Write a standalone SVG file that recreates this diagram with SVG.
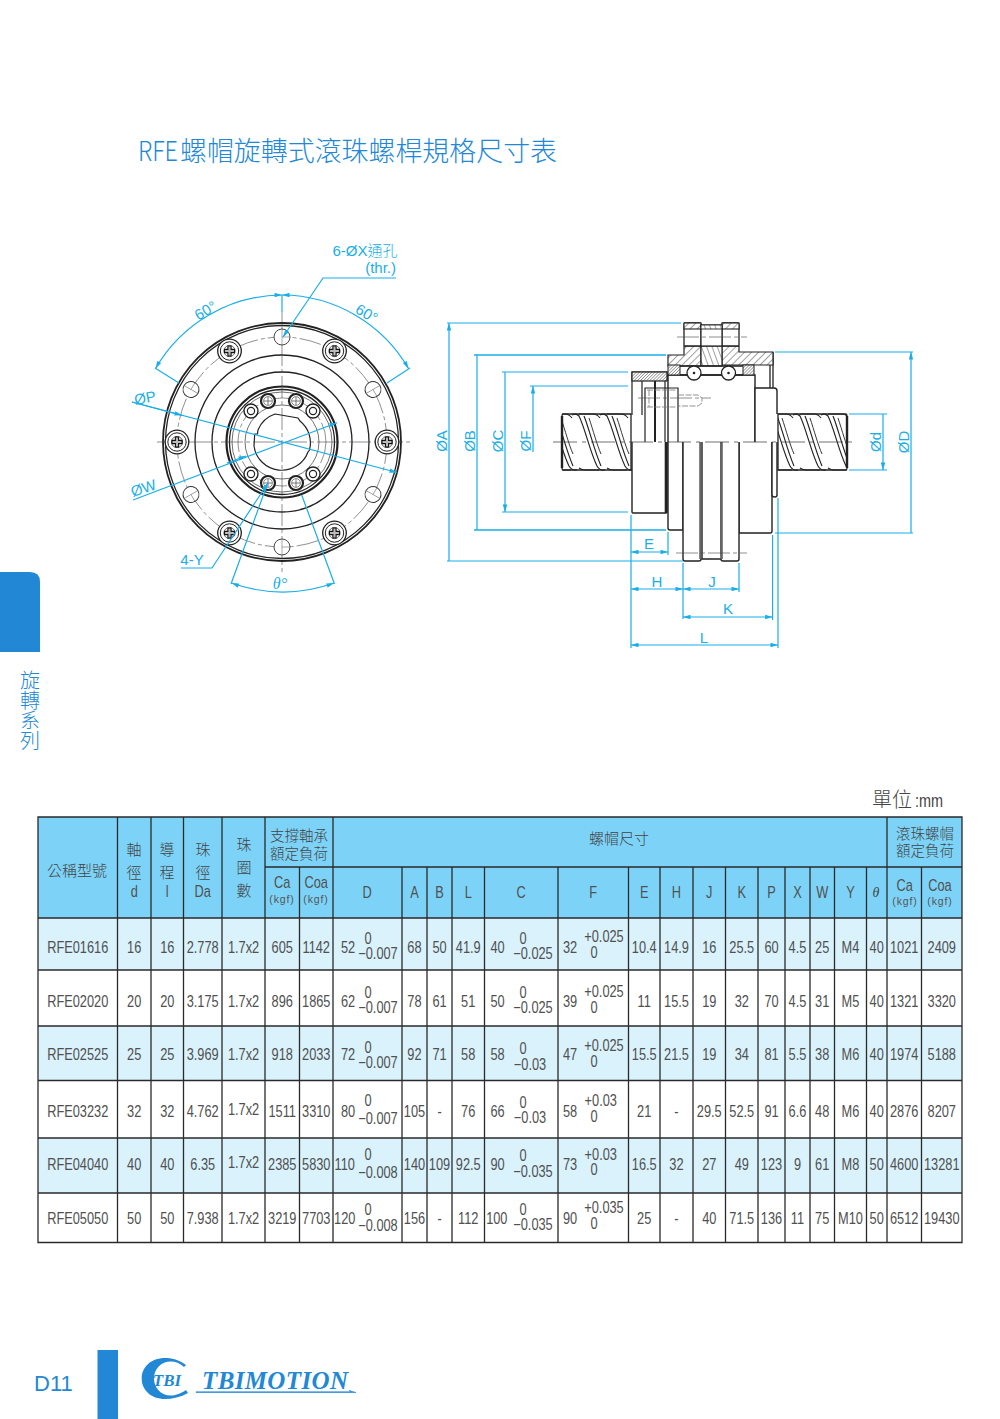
<svg xmlns="http://www.w3.org/2000/svg" width="1000" height="1419" viewBox="0 0 1000 1419">
<style>
.cjk{font-family:"Noto Sans CJK TC","Noto Sans CJK SC",sans-serif}
.ls{font-family:"Liberation Sans",Arial,sans-serif}
.tt{font-family:"Liberation Sans",Arial,sans-serif;font-size:16px;fill:#505050;text-anchor:middle}
.th{font-family:"Noto Sans CJK TC",sans-serif;font-size:15px;fill:#444;text-anchor:middle;font-weight:300}
.th2{font-family:"Noto Sans CJK TC",sans-serif;font-size:14.500px;fill:#444;text-anchor:middle;font-weight:300}
.kg{font-family:"Liberation Sans",sans-serif;font-size:10.5px;fill:#555;text-anchor:middle;letter-spacing:.9px}
.dim{font-family:"Liberation Sans",Arial,sans-serif;font-size:15px;fill:#19aee9;text-anchor:middle}
.c{fill:none;stroke:#19aee9;stroke-width:1.2}
.ca{fill:none;stroke:#19aee9;stroke-width:1.2;marker-start:url(#as);marker-end:url(#ae)}
.b{fill:none;stroke:#222;stroke-width:1.3}
.bt{fill:none;stroke:#222;stroke-width:2.2}
.n{fill:none;stroke:#333;stroke-width:.7}
.cl{fill:none;stroke:#444;stroke-width:.6;stroke-dasharray:22 3 4 3}
.g{stroke:#2a2a2a;stroke-width:1.3;fill:none}
.o{fill:#fff;stroke:#222;stroke-width:1.4}
</style>
<defs>
<marker id="ae" viewBox="0 0 10 6" refX="10" refY="3" markerWidth="8" markerHeight="4.500" markerUnits="userSpaceOnUse" orient="auto"><path d="M0 0L10 3L0 6Z" fill="#19aee9"/></marker>
<marker id="as" viewBox="0 0 10 6" refX="0" refY="3" markerWidth="8" markerHeight="4.500" markerUnits="userSpaceOnUse" orient="auto"><path d="M10 0L0 3L10 6Z" fill="#19aee9"/></marker>
<pattern id="h1" width="5" height="5" patternUnits="userSpaceOnUse" patternTransform="rotate(45)"><rect width="5" height="5" fill="#fff"/><line x1="0" y1="0" x2="0" y2="5" stroke="#444" stroke-width="1"/></pattern>
<pattern id="h2" width="5" height="5" patternUnits="userSpaceOnUse" patternTransform="rotate(-20)"><rect width="5" height="5" fill="#fff"/><line x1="0" y1="0" x2="0" y2="5" stroke="#444" stroke-width="1"/></pattern>
<pattern id="h3" width="2.200" height="2.200" patternUnits="userSpaceOnUse" patternTransform="rotate(45)"><rect width="2.200" height="2.200" fill="#fff"/><line x1="0" y1="0" x2="0" y2="2.200" stroke="#555" stroke-width="1"/></pattern>
<g id="screw"><circle r="11.800" fill="#fff" stroke="#222" stroke-width="1.300"/><circle r="9.200" fill="none" stroke="#222" stroke-width="1"/><circle r="5.600" fill="none" stroke="#333" stroke-width=".7"/><path d="M-1.600-5H1.600V-1.600H5V1.600H1.600V5H-1.600V1.600H-5V-1.600H-1.600Z" fill="#bbb" stroke="#111" stroke-width="1.100"/></g>
<g id="hole"><circle r="8" fill="#fff" stroke="#333" stroke-width=".9"/><path d="M0-8V8M0 0H8" stroke="#555" stroke-width=".5" fill="none"/></g>
<g id="bolt"><circle r="7" fill="#fff" stroke="#222" stroke-width="2.200"/><circle r="4.400" fill="none" stroke="#555" stroke-width=".7"/><path d="M-4 0H4M0-4V4" stroke="#555" stroke-width=".8"/></g>
<g id="pin"><circle r="7" fill="#fff" stroke="#222" stroke-width="1.400"/><circle r="3.600" fill="none" stroke="#222" stroke-width="1.200"/></g>
<g id="thread" fill="none" stroke="#222" stroke-width="1.150"><path d="M-5 415Q-1 413 2 416C8 428 13 452 20 466Q23 471 28 470"/><path d="M7 416C12 428 17 450 24 466"/><path d="M12 418C16 430 20 445 24 454" stroke-width=".9"/><path d="M2 414H16Q20 414 23 418M22 470H8Q5 470 2 468" stroke-width="1.150"/></g>
<clipPath id="sl"><rect x="562" y="413" width="70" height="58"/></clipPath>
<clipPath id="sr"><rect x="778" y="413" width="69" height="58"/></clipPath>
</defs>

<g id="title"><text x="138" y="161" font-size="27" fill="#2288d6" class="cjk" font-weight="300" textLength="40" lengthAdjust="spacingAndGlyphs">RFE</text><text x="180" y="161" font-size="27" fill="#2288d6" class="cjk" font-weight="300" textLength="377" lengthAdjust="spacingAndGlyphs">螺帽旋轉式滾珠螺桿規格尺寸表</text></g>

<g id="side-tab">
<path d="M0 572H30Q40 572 40 582V652H0Z" fill="#2288d6"/>
<text x="30" y="670" class="cjk" font-size="20" fill="#2288d6" font-weight="300" writing-mode="vertical-rl">旋轉系列</text>
</g>

<g id="front-view">
<circle cx="282" cy="442" r="119" fill="#fff" stroke="#222" stroke-width="1.800"/>
<circle cx="282" cy="442" r="116.500" class="b"/>
<circle cx="282" cy="442" r="87" class="b"/>
<circle cx="282" cy="442" r="70" class="b"/>
<circle cx="282" cy="442" r="105" class="cl"/>
<circle cx="282" cy="442" r="55.500" class="bt"/>
<circle cx="282" cy="442" r="52.500" class="b"/>
<circle cx="282" cy="442" r="50" class="n"/>
<circle cx="282" cy="442" r="44" class="cl"/>
<circle cx="282" cy="442" r="37" class="n"/>
<path d="M275 414L298 418L300 421A28 28 0 0 1 309.500 450L308 452A28 28 0 0 1 254 446L254.700 434L257.500 434L258 430A28 28 0 0 1 275 414Z" fill="#fff" stroke="#222" stroke-width="1.200"/>
<path d="M157 442H410M282 312V572" class="cl"/>
<use href="#hole" x="282" y="337"/><use href="#hole" x="282" y="547"/>
<use href="#hole" transform="translate(191 389.500) rotate(-60)"/><use href="#hole" transform="translate(373 389.500) rotate(60)"/><use href="#hole" transform="translate(191 494.500) rotate(60)"/><use href="#hole" transform="translate(373 494.500) rotate(-60)"/>
<use href="#screw" x="229.500" y="351"/><use href="#screw" x="334.500" y="351"/><use href="#screw" x="229.500" y="533"/><use href="#screw" x="334.500" y="533"/><use href="#screw" x="177" y="442"/><use href="#screw" x="387" y="442"/>
<use href="#bolt" x="268" y="401"/><use href="#bolt" x="296" y="401"/><use href="#bolt" x="268" y="483"/><use href="#bolt" x="296" y="483"/>
<use href="#pin" x="251" y="411"/><use href="#pin" x="313" y="411"/><use href="#pin" x="251" y="474"/><use href="#pin" x="313" y="474"/>
</g>

<g id="side-view">
<path d="M563 414H631V470H563Q562 470 562 468V416Q562 414 563 414Z" fill="#fff" stroke="#222" stroke-width="1.300"/>
<path d="M778 414H846Q847 414 847 416V468Q847 470 846 470H778Z" fill="#fff" stroke="#222" stroke-width="1.300"/>
<path d="M562 416V468M847 416V468" stroke="#222" stroke-width="2.400"/>
<g clip-path="url(#sl)"><use href="#thread" x="549"/><use href="#thread" x="577"/><use href="#thread" x="605"/></g>
<g clip-path="url(#sr)"><use href="#thread" x="770"/><use href="#thread" x="798"/><use href="#thread" x="826"/></g>

<path d="M632 442V512Q632 513 633 513H666Q667 513 667 512V442" class="o"/>
<path d="M668 442V528Q668 530 670 530H683V442" class="o"/>
<path d="M739 442V533H770Q772 533 772 531V442" class="o"/>
<path d="M772 442V495Q772 497 775 497Q777 497 777 495V442" class="o"/>
<path d="M683 442V559Q683 561 685 561H699Q701 561 701 559V442" class="o"/>
<path d="M721 442V559Q721 561 723 561H737Q739 561 739 559V442" class="o"/>
<path d="M702 442V559H721" class="o"/>
<path d="M666 442V513" stroke="#222" stroke-width="2.600"/>
<path d="M700.500 442V559M721.500 442V559" stroke="#666" stroke-width="2.600"/>

<path d="M668 442V375H755V442" class="o"/>
<path d="M755 442V388H774Q777 388 777 391V414" class="o"/>
<path d="M770 388V364M773 388V352" class="b"/>
<path d="M632 415V372H667V381M642 381V415M645 442V388H678V442M665 381V442" fill="none" stroke="#222" stroke-width="1.200"/>
<path d="M655 381V442" stroke="#222" stroke-width="2"/>
<rect x="632" y="372" width="35" height="9" fill="url(#h3)" stroke="#222" stroke-width="1.200"/>
<path d="M668 365V355H684V346H701V366H668Z" fill="url(#h1)" stroke="#222" stroke-width="1.200"/>
<path d="M722 346H739V352H773V365H722Z" fill="url(#h1)" stroke="#222" stroke-width="1.200"/>
<rect x="701" y="346" width="21" height="20" fill="url(#h2)" stroke="#222" stroke-width="1.200"/>
<rect x="668" y="365" width="12" height="10" fill="url(#h3)" stroke="#222" stroke-width="1"/>
<rect x="743" y="365" width="11" height="10" fill="url(#h3)" stroke="#222" stroke-width="1"/>
<path d="M680 366H743M680 375H743" class="b"/>
<rect x="684" y="323" width="17" height="23" rx="1" fill="#fff" stroke="#222" stroke-width="1.300"/>
<rect x="684" y="323" width="17" height="6" fill="url(#h1)" stroke="#222" stroke-width="1.100"/>
<rect x="722" y="323" width="17" height="23" rx="1" fill="#fff" stroke="#222" stroke-width="1.300"/>
<rect x="722" y="323" width="17" height="6" fill="url(#h1)" stroke="#222" stroke-width="1.100"/>
<rect x="701" y="325" width="21" height="21" fill="#fff" stroke="#222" stroke-width="1.200"/>
<rect x="701" y="325" width="21" height="4" fill="url(#h2)" stroke="#222" stroke-width=".9"/>
<circle cx="694" cy="373" r="7" fill="#fff" stroke="#222" stroke-width="1.300"/><circle cx="694" cy="373" r="1.300" fill="#222"/>
<circle cx="728.500" cy="373" r="7" fill="#fff" stroke="#222" stroke-width="1.300"/><circle cx="728.500" cy="373" r="1.300" fill="#222"/>
<path d="M647 390H678M647 407H678M678 395H698L702 398L702 403L698 406H678M649 390V407" fill="none" stroke="#777" stroke-width=".8" stroke-dasharray="6 1.500"/>
<path d="M638 398H711M677 337H747M676 553H747" class="cl"/>
<path d="M553 442H855" fill="none" stroke="#333" stroke-width=".7" stroke-dasharray="24 5 4 5"/>
</g>

<g id="connectors">
<path d="M282 295V312" class="c"/>
<path d="M155 368L179 383M410 368L387 383" class="c"/>
<path d="M155.500 368.500A147 147 0 0 1 282 295" class="ca"/>
<path d="M408.500 368.500A147 147 0 0 0 282 295" class="ca"/>
<path d="M396 278H323L283 337" class="c" marker-end="url(#ae)"/>
<path d="M132 402L397 472.500" class="c" marker-end="url(#ae)"/>
<path d="M132 402L182 415.300" class="c" marker-end="url(#ae)"/>
<path d="M133 500L337 422.700" class="c" marker-end="url(#ae)"/>
<path d="M227 463L246 456" class="c" marker-end="url(#ae)"/>
<path d="M181 568H212L268 483" class="c" marker-end="url(#ae)"/>
<path d="M267 485L231 584M301.700 495L334.500 584" class="c"/>
<path d="M231.500 583A150 150 0 0 0 334 583" class="ca"/>

<path d="M447 323H681M447 561H683M502 372H628M502 512H628M530 386H628" class="c"/>
<path d="M474 355H666M474 530H666" class="c" style="stroke-width:1.500"/>
<path d="M449 323V561M477 355V530M505 372V512" class="ca"/>
<path d="M533 452V386" class="c" marker-end="url(#ae)"/>
<path d="M775 352H913M775 533H913M849 414H887M849 470H887" class="c"/>
<path d="M911 352V533M883 414V470" class="ca"/>
<path d="M631 515V648M668 532V555M683 563V619M739 563V592M772.600 535V620M778 498V648" class="c"/>
<path d="M631 552H668" class="ca"/>
<path d="M631 589H683" class="ca"/>
<path d="M683 589H739" class="ca"/>
<path d="M683 617H772.600" class="ca"/>
<path d="M631 645H778" class="ca"/>
</g>

<g id="dimension-labels">
<text class="dim" x="365" y="256"><tspan class="ls">6-ØX</tspan><tspan class="cjk" font-weight="300">通孔</tspan></text>
<text class="dim" x="396" y="273" style="text-anchor:end">(thr.)</text>
<text class="dim" transform="translate(208 315) rotate(-30)">60°</text>
<text class="dim" transform="translate(364 318) rotate(30)">60°</text>
<text class="dim" transform="translate(146 403) rotate(-10)">ØP</text>
<text class="dim" transform="translate(145 493) rotate(-18)">ØW</text>
<text class="dim" x="192" y="565">4-Y</text>
<text x="280" y="589" font-family="'Liberation Serif',serif" font-style="italic" font-size="16" fill="#19aee9" text-anchor="middle">θ°</text>
<text class="dim" transform="translate(447 441) rotate(-90)">ØA</text>
<text class="dim" transform="translate(475 441) rotate(-90)">ØB</text>
<text class="dim" transform="translate(503 441) rotate(-90)">ØC</text>
<text class="dim" transform="translate(531 441) rotate(-90)">ØF</text>
<text class="dim" transform="translate(881 442) rotate(-90)">Ød</text>
<text class="dim" transform="translate(909 442) rotate(-90)">ØD</text>
<text class="dim" x="649" y="549">E</text>
<text class="dim" x="657" y="587">H</text>
<text class="dim" x="712" y="587">J</text>
<text class="dim" x="728" y="614">K</text>
<text class="dim" x="704" y="643">L</text>
</g>

<g id="unit"><text x="872" y="807" font-size="20" fill="#444" class="cjk" font-weight="300">單位</text><text x="912" y="807" font-size="18" fill="#444" class="ls" transform="translate(185.500 0) scale(.8 1)">:mm</text></g>

<g id="table">
<rect x="38" y="817" width="924" height="101" fill="#7dd3f7"/>
<rect x="38" y="918" width="924" height="52" fill="#d9f2fc"/>
<rect x="38" y="970" width="924" height="56" fill="#fff"/>
<rect x="38" y="1026" width="924" height="54.500" fill="#d9f2fc"/>
<rect x="38" y="1080.500" width="924" height="57.500" fill="#fff"/>
<rect x="38" y="1138" width="924" height="55" fill="#d9f2fc"/>
<rect x="38" y="1193" width="924" height="49.500" fill="#fff"/>
<path class="g" d="M38 817H962V1242.500H38ZM265 867H962M38 918H962M38 970H962M38 1026H962M38 1080.500H962M38 1138H962M38 1193H962M117.500 817V1242.500M151 817V1242.500M183.500 817V1242.500M222 817V1242.500M265 817V1242.500M333 817V1242.500M887 817V1242.500M299.500 867V1242.500M402 867V1242.500M427 867V1242.500M452 867V1242.500M484.500 867V1242.500M558 867V1242.500M628.500 867V1242.500M660 867V1242.500M693 867V1242.500M725.500 867V1242.500M758 867V1242.500M785 867V1242.500M810 867V1242.500M834.500 867V1242.500M866.500 867V1242.500M921.500 867V1242.500"/>
<g id="table-head-cjk">
<text class="th" x="77" y="876">公稱型號</text>
<text class="th" x="134" y="855">軸</text><text class="th" x="134" y="878">徑</text>
<text class="th" x="167" y="855">導</text><text class="th" x="167" y="878">程</text>
<text class="th" x="203" y="855">珠</text><text class="th" x="203" y="878">徑</text>
<text class="th" x="244" y="850">珠</text><text class="th" x="244" y="873">圈</text><text class="th" x="244" y="896">數</text>
<text class="th2" x="299" y="841">支撐軸承</text><text class="th2" x="299" y="858.500">額定負荷</text>
<text class="th" x="619" y="844">螺帽尺寸</text>
<text class="th2" x="925" y="838.500">滾珠螺帽</text><text class="th2" x="925" y="856">額定負荷</text>
<text class="kg" x="282" y="903">(kgf)</text><text class="kg" x="316" y="903">(kgf)</text><text class="kg" x="905" y="905">(kgf)</text><text class="kg" x="940" y="905">(kgf)</text>
<text x="876" y="897" font-family="'Liberation Serif',serif" font-style="italic" font-size="14" fill="#444" text-anchor="middle">θ</text>
</g>
<g transform="scale(.8 1)">
<text class="tt" x="167.800" y="897">d</text><text class="tt" x="209.100" y="897">l</text><text class="tt" x="253.400" y="897">Da</text>
<text class="tt" x="352.800" y="888.500">Ca</text><text class="tt" x="395.300" y="888.500">Coa</text>
<text class="tt" x="459" y="898">D</text><text class="tt" x="518.100" y="898">A</text><text class="tt" x="549.400" y="898">B</text><text class="tt" x="585.300" y="898">L</text><text class="tt" x="651.500" y="898">C</text><text class="tt" x="741.500" y="898">F</text><text class="tt" x="805.300" y="898">E</text><text class="tt" x="845.600" y="898">H</text><text class="tt" x="886.600" y="898">J</text><text class="tt" x="927.200" y="898">K</text><text class="tt" x="964.400" y="898">P</text><text class="tt" x="996.900" y="898">X</text><text class="tt" x="1027.800" y="898">W</text><text class="tt" x="1063.100" y="898">Y</text>
<text class="tt" x="1131" y="891">Ca</text><text class="tt" x="1175" y="891">Coa</text>

<g id="row1"><text class="tt" x="97.200" y="953">RFE01616</text><text class="tt" x="167.800" y="953">16</text><text class="tt" x="209.100" y="953">16</text><text class="tt" x="253.400" y="953">2.778</text><text class="tt" x="304.400" y="953">1.7x2</text><text class="tt" x="352.800" y="953">605</text><text class="tt" x="395.300" y="953">1142</text><text class="tt" x="435" y="953">52</text><text class="tt" x="460" y="944">0</text><text class="tt" x="472.500" y="959">−0.007</text><text class="tt" x="518.100" y="953">68</text><text class="tt" x="549.400" y="953">50</text><text class="tt" x="585.300" y="953">41.9</text><text class="tt" x="621.900" y="953">40</text><text class="tt" x="653.750" y="944">0</text><text class="tt" x="666.250" y="959">−0.025</text><text class="tt" x="712.500" y="953">32</text><text class="tt" x="755" y="942.500">+0.025</text><text class="tt" x="742.500" y="958">0</text><text class="tt" x="805.300" y="953">10.4</text><text class="tt" x="845.600" y="953">14.9</text><text class="tt" x="886.600" y="953">16</text><text class="tt" x="927.200" y="953">25.5</text><text class="tt" x="964.400" y="953">60</text><text class="tt" x="996.900" y="953">4.5</text><text class="tt" x="1027.800" y="953">25</text><text class="tt" x="1063.100" y="953">M4</text><text class="tt" x="1095.900" y="953">40</text><text class="tt" x="1130.300" y="953">1021</text><text class="tt" x="1177.200" y="953">2409</text></g>

<g id="row2"><text class="tt" x="97.200" y="1007">RFE02020</text><text class="tt" x="167.800" y="1007">20</text><text class="tt" x="209.100" y="1007">20</text><text class="tt" x="253.400" y="1007">3.175</text><text class="tt" x="304.400" y="1007">1.7x2</text><text class="tt" x="352.800" y="1007">896</text><text class="tt" x="395.300" y="1007">1865</text><text class="tt" x="435" y="1007">62</text><text class="tt" x="460" y="998">0</text><text class="tt" x="472.500" y="1013">−0.007</text><text class="tt" x="518.100" y="1007">78</text><text class="tt" x="549.400" y="1007">61</text><text class="tt" x="585.300" y="1007">51</text><text class="tt" x="621.900" y="1007">50</text><text class="tt" x="653.750" y="998">0</text><text class="tt" x="666.250" y="1013">−0.025</text><text class="tt" x="712.500" y="1007">39</text><text class="tt" x="755" y="997.500">+0.025</text><text class="tt" x="742.500" y="1013">0</text><text class="tt" x="805.300" y="1007">11</text><text class="tt" x="845.600" y="1007">15.5</text><text class="tt" x="886.600" y="1007">19</text><text class="tt" x="927.200" y="1007">32</text><text class="tt" x="964.400" y="1007">70</text><text class="tt" x="996.900" y="1007">4.5</text><text class="tt" x="1027.800" y="1007">31</text><text class="tt" x="1063.100" y="1007">M5</text><text class="tt" x="1095.900" y="1007">40</text><text class="tt" x="1130.300" y="1007">1321</text><text class="tt" x="1177.200" y="1007">3320</text></g>

<g id="row3"><text class="tt" x="97.200" y="1060">RFE02525</text><text class="tt" x="167.800" y="1060">25</text><text class="tt" x="209.100" y="1060">25</text><text class="tt" x="253.400" y="1060">3.969</text><text class="tt" x="304.400" y="1060">1.7x2</text><text class="tt" x="352.800" y="1060">918</text><text class="tt" x="395.300" y="1060">2033</text><text class="tt" x="435" y="1060">72</text><text class="tt" x="460" y="1053">0</text><text class="tt" x="472.500" y="1068">−0.007</text><text class="tt" x="518.100" y="1060">92</text><text class="tt" x="549.400" y="1060">71</text><text class="tt" x="585.300" y="1060">58</text><text class="tt" x="621.900" y="1060">58</text><text class="tt" x="653.750" y="1054">0</text><text class="tt" x="662.500" y="1070">−0.03</text><text class="tt" x="712.500" y="1060">47</text><text class="tt" x="755" y="1051.500">+0.025</text><text class="tt" x="742.500" y="1067">0</text><text class="tt" x="805.300" y="1060">15.5</text><text class="tt" x="845.600" y="1060">21.5</text><text class="tt" x="886.600" y="1060">19</text><text class="tt" x="927.200" y="1060">34</text><text class="tt" x="964.400" y="1060">81</text><text class="tt" x="996.900" y="1060">5.5</text><text class="tt" x="1027.800" y="1060">38</text><text class="tt" x="1063.100" y="1060">M6</text><text class="tt" x="1095.900" y="1060">40</text><text class="tt" x="1130.300" y="1060">1974</text><text class="tt" x="1177.200" y="1060">5188</text></g>

<g id="row4"><text class="tt" x="97.200" y="1117">RFE03232</text><text class="tt" x="167.800" y="1117">32</text><text class="tt" x="209.100" y="1117">32</text><text class="tt" x="253.400" y="1117">4.762</text><text class="tt" x="304.400" y="1115">1.7x2</text><text class="tt" x="352.800" y="1117">1511</text><text class="tt" x="395.300" y="1117">3310</text><text class="tt" x="435" y="1117">80</text><text class="tt" x="460" y="1106">0</text><text class="tt" x="472.500" y="1124">−0.007</text><text class="tt" x="518.100" y="1117">105</text><text class="tt" x="549.400" y="1117">-</text><text class="tt" x="585.300" y="1117">76</text><text class="tt" x="621.900" y="1117">66</text><text class="tt" x="653.750" y="1108">0</text><text class="tt" x="662.500" y="1123">−0.03</text><text class="tt" x="712.500" y="1117">58</text><text class="tt" x="751" y="1106.500">+0.03</text><text class="tt" x="742.500" y="1122">0</text><text class="tt" x="805.300" y="1117">21</text><text class="tt" x="845.600" y="1117">-</text><text class="tt" x="886.600" y="1117">29.5</text><text class="tt" x="927.200" y="1117">52.5</text><text class="tt" x="964.400" y="1117">91</text><text class="tt" x="996.900" y="1117">6.6</text><text class="tt" x="1027.800" y="1117">48</text><text class="tt" x="1063.100" y="1117">M6</text><text class="tt" x="1095.900" y="1117">40</text><text class="tt" x="1130.300" y="1117">2876</text><text class="tt" x="1177.200" y="1117">8207</text></g>

<g id="row5"><text class="tt" x="97.200" y="1170">RFE04040</text><text class="tt" x="167.800" y="1170">40</text><text class="tt" x="209.100" y="1170">40</text><text class="tt" x="253.400" y="1170">6.35</text><text class="tt" x="304.400" y="1168">1.7x2</text><text class="tt" x="352.800" y="1170">2385</text><text class="tt" x="395.300" y="1170">5830</text><text class="tt" x="431" y="1170">110</text><text class="tt" x="460" y="1160">0</text><text class="tt" x="472.500" y="1178">−0.008</text><text class="tt" x="518.100" y="1170">140</text><text class="tt" x="549.400" y="1170">109</text><text class="tt" x="585.300" y="1170">92.5</text><text class="tt" x="621.900" y="1170">90</text><text class="tt" x="653.750" y="1161">0</text><text class="tt" x="666.250" y="1177">−0.035</text><text class="tt" x="712.500" y="1170">73</text><text class="tt" x="751" y="1160">+0.03</text><text class="tt" x="742.500" y="1175">0</text><text class="tt" x="805.300" y="1170">16.5</text><text class="tt" x="845.600" y="1170">32</text><text class="tt" x="886.600" y="1170">27</text><text class="tt" x="927.200" y="1170">49</text><text class="tt" x="964.400" y="1170">123</text><text class="tt" x="996.900" y="1170">9</text><text class="tt" x="1027.800" y="1170">61</text><text class="tt" x="1063.100" y="1170">M8</text><text class="tt" x="1095.900" y="1170">50</text><text class="tt" x="1130.300" y="1170">4600</text><text class="tt" x="1177.200" y="1170">13281</text></g>

<g id="row6"><text class="tt" x="97.200" y="1224">RFE05050</text><text class="tt" x="167.800" y="1224">50</text><text class="tt" x="209.100" y="1224">50</text><text class="tt" x="253.400" y="1224">7.938</text><text class="tt" x="304.400" y="1224">1.7x2</text><text class="tt" x="352.800" y="1224">3219</text><text class="tt" x="395.300" y="1224">7703</text><text class="tt" x="431" y="1224">120</text><text class="tt" x="460" y="1215">0</text><text class="tt" x="472.500" y="1231">−0.008</text><text class="tt" x="518.100" y="1224">156</text><text class="tt" x="549.400" y="1224">-</text><text class="tt" x="585.300" y="1224">112</text><text class="tt" x="621" y="1224">100</text><text class="tt" x="653.750" y="1215">0</text><text class="tt" x="666.250" y="1230">−0.035</text><text class="tt" x="712.500" y="1224">90</text><text class="tt" x="755" y="1213">+0.035</text><text class="tt" x="742.500" y="1229">0</text><text class="tt" x="805.300" y="1224">25</text><text class="tt" x="845.600" y="1224">-</text><text class="tt" x="886.600" y="1224">40</text><text class="tt" x="927.200" y="1224">71.5</text><text class="tt" x="964.400" y="1224">136</text><text class="tt" x="996.900" y="1224">11</text><text class="tt" x="1027.800" y="1224">75</text><text class="tt" x="1063.100" y="1224">M10</text><text class="tt" x="1095.900" y="1224">50</text><text class="tt" x="1130.300" y="1224">6512</text><text class="tt" x="1177.200" y="1224">19430</text></g>
</g>
</g>

<g id="footer">
<text x="34" y="1391" font-size="22" fill="#2288d6" class="ls">D11</text>
<rect x="97.500" y="1350" width="20.500" height="69" fill="#2288d6"/>
<path d="M186 1365C178 1359 171 1358 165 1358C151 1358 141.700 1367 141.700 1378.500C141.700 1390 151 1399 165 1399C172 1399 181 1397 188 1393L186 1390C180 1394 175 1395.500 171 1395.500C161 1395.500 154 1388 154 1378.500C154 1369 161 1361.500 171 1361.500C175 1361.500 180 1363 184 1367Z" fill="#2288d6"/>
<text x="167" y="1386" font-size="17" font-weight="bold" font-style="italic" fill="#2288d6" font-family="'Liberation Serif',serif" text-anchor="middle">TBI</text>
<text x="202" y="1389" font-size="25" font-weight="bold" font-style="italic" fill="#2288d6" font-family="'Liberation Serif',serif" textLength="146" lengthAdjust="spacing">TBIMOTION</text>
<path d="M196 1392.500H356L349 1390.500L351 1391.800H196Z" fill="#2288d6" stroke="#2288d6" stroke-width=".6"/>
</g>
</svg>
